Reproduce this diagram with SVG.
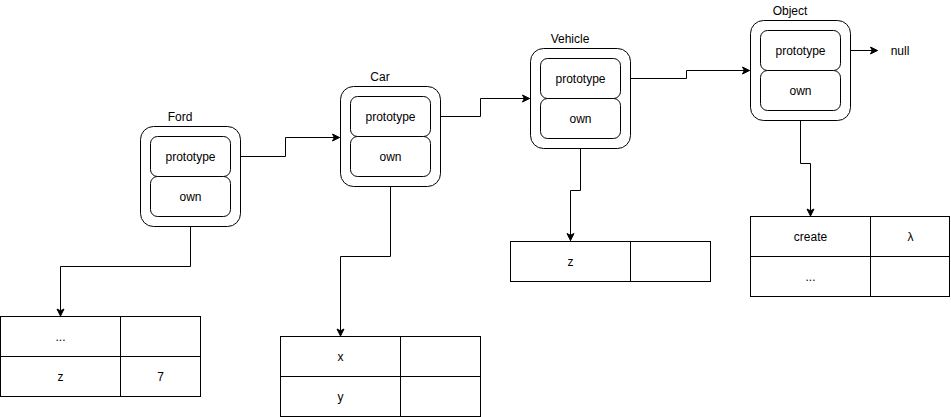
<svg xmlns="http://www.w3.org/2000/svg" width="951" height="417" viewBox="0 0 951 417">
<style>
text{font-family:"Liberation Sans",Arial,sans-serif;font-size:12px;fill:#000;text-anchor:middle}
.outer{fill:#fff;stroke:#000;stroke-width:1}
.inner{fill:#fff;stroke:#000;stroke-width:1}
.cell{fill:#fff;stroke:#000;stroke-width:1}
.edge{fill:none;stroke:#000;stroke-width:1;marker-end:url(#arr)}
</style>
<defs>
<marker id="arr" markerUnits="userSpaceOnUse" markerWidth="10" markerHeight="10" refX="8" refY="5" orient="auto">
<path d="M1,1.5 L8,5 L1,8.5 L2.8,5 Z" fill="#000" stroke="#000" stroke-width="1"/>
</marker>
</defs>
<rect width="951" height="417" fill="#fff"/>
<g id="edges">
<path class="edge" d="M230.5,156.5 H285.5 V137.5 H339.5"/>
<path class="edge" d="M430.5,116.5 H480.5 V98.5 H529.5"/>
<path class="edge" d="M620.5,78.5 H686.5 V70.5 H749.5"/>
<path class="edge" d="M830.5,50.5 H877.5"/>
<path class="edge" d="M190.5,216.5 V266.5 H60.5 V316"/>
<path class="edge" d="M390.5,176.5 V256.5 H340.5 V336"/>
<path class="edge" d="M580.5,138.5 V190.5 H570.5 V240.5"/>
<path class="edge" d="M800.5,110.5 V163.5 H810.5 V216"/>
</g>
<g id="ford">
<text x="180" y="121">Ford</text>
<rect class="outer" x="140.5" y="126.5" width="100" height="100" rx="13"/>
<rect class="inner" x="150.5" y="136.5" width="80" height="40" rx="7"/>
<text x="190.5" y="160.5">prototype</text>
<rect class="inner" x="150.5" y="176.5" width="80" height="40" rx="7"/>
<text x="190.5" y="200.5">own</text>
</g>
<g id="car">
<text x="380" y="81">Car</text>
<rect class="outer" x="340.5" y="86.5" width="100" height="100" rx="13"/>
<rect class="inner" x="350.5" y="96.5" width="80" height="40" rx="7"/>
<text x="390.5" y="120.5">prototype</text>
<rect class="inner" x="350.5" y="136.5" width="80" height="40" rx="7"/>
<text x="390.5" y="160.5">own</text>
</g>
<g id="vehicle">
<text x="570" y="43">Vehicle</text>
<rect class="outer" x="530.5" y="48.5" width="100" height="100" rx="13"/>
<rect class="inner" x="540.5" y="58.5" width="80" height="40" rx="7"/>
<text x="580.5" y="82.5">prototype</text>
<rect class="inner" x="540.5" y="98.5" width="80" height="40" rx="7"/>
<text x="580.5" y="122.5">own</text>
</g>
<g id="object">
<text x="790" y="15">Object</text>
<rect class="outer" x="750.5" y="20.5" width="100" height="100" rx="13"/>
<rect class="inner" x="760.5" y="30.5" width="80" height="40" rx="7"/>
<text x="800.5" y="54.5">prototype</text>
<rect class="inner" x="760.5" y="70.5" width="80" height="40" rx="7"/>
<text x="800.5" y="94.5">own</text>
</g>
<g id="null">
<text x="900" y="54.5">null</text>
</g>
<g id="ford-table">
<rect class="cell" x="0.5" y="316.5" width="120" height="40"/>
<rect class="cell" x="120.5" y="316.5" width="80" height="40"/>
<rect class="cell" x="0.5" y="356.5" width="120" height="40"/>
<rect class="cell" x="120.5" y="356.5" width="80" height="40"/>
<text x="60.5" y="340.5">...</text>
<text x="60.5" y="380.5">z</text>
<text x="160.5" y="380.5">7</text>
</g>
<g id="car-table">
<rect class="cell" x="280.5" y="336.5" width="120" height="40"/>
<rect class="cell" x="400.5" y="336.5" width="80" height="40"/>
<rect class="cell" x="280.5" y="376.5" width="120" height="40"/>
<rect class="cell" x="400.5" y="376.5" width="80" height="40"/>
<text x="340.5" y="360.5">x</text>
<text x="340.5" y="400.5">y</text>
</g>
<g id="vehicle-table">
<rect class="cell" x="510.5" y="241.5" width="120" height="40"/>
<rect class="cell" x="630.5" y="241.5" width="80" height="40"/>
<text x="570.5" y="265.5">z</text>
</g>
<g id="object-table">
<rect class="cell" x="750.5" y="216.5" width="120" height="40"/>
<rect class="cell" x="870.5" y="216.5" width="79" height="40"/>
<rect class="cell" x="750.5" y="256.5" width="120" height="40"/>
<rect class="cell" x="870.5" y="256.5" width="79" height="40"/>
<text x="810.5" y="240.5">create</text>
<text x="910.5" y="240.5">λ</text>
<text x="810.5" y="280.5">...</text>
</g>
</svg>
